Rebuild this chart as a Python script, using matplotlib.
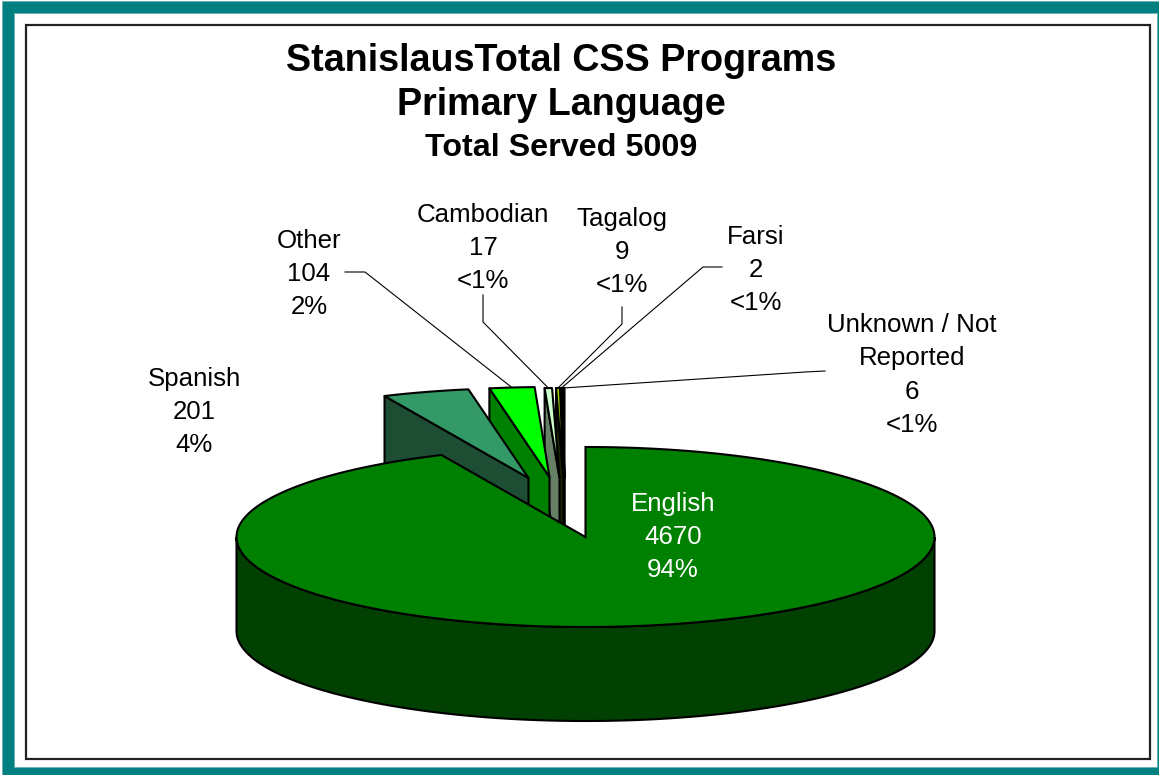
import numpy as np
import matplotlib.pyplot as plt
from matplotlib.patches import Polygon, Rectangle

plt.rcParams['font.family'] = ['Liberation Sans', 'DejaVu Sans']

languages = ["English", "Spanish", "Other", "Cambodian", "Tagalog", "Farsi", "Unknown / Not\nReported"]
served = [4670, 201, 104, 17, 9, 2, 6]
percents = ["94%", "4%", "2%", "<1%", "<1%", "<1%", "<1%"]

# look of each slice, same order as the data
top_colors = ["#008000", "#339966", "#00ff00", "#ccffcc", "#99cc00", "#003300", "#000000"]
side_colors = ["#004000", "#1d4d33", "#008000", "#668066", "#1a2200", "#000000", "#000000"]
explode_dx = [0, -57, -36, -26, -22, -21, -21]
explode_dy = [0, -59, -60, -59, -59, -59, -59]
label_x = [673, 194, 309, 483, 622, 756, 912]
label_y = [537, 412, 274, 248, 252, 270, 375]
# label side end of the leader lines, then the elbow
leader_from = [None, None, (345, 272), (483, 295), (622, 307), (722, 267), (825, 371)]
leader_elbow = [None, None, (365, 272), (483, 322), (622, 324), (703, 267), (805, 372)]

cx, cy = 585.5, 537
rx, ry = 349, 90
depth = 94
line_w = 1.5

fig = plt.figure(figsize=(11.59, 7.75), dpi=100)
ax = fig.add_axes([0, 0, 1, 1])
ax.set_xlim(0, 1159)
ax.set_ylim(775, 0)
ax.axis("off")

# teal border and inner frame
ax.add_patch(Rectangle((0, 0), 1159, 775, fc="#ffffff", ec="none"))
ax.add_patch(Rectangle((2, 1), 1157, 774, fc="#008080", ec="#66b2b2", lw=0.5))
ax.add_patch(Rectangle((14, 13), 1143, 754, fc="#ffffff", ec="#66b2b2", lw=0.5))
ax.add_patch(Rectangle((25.5, 24.5), 1124.5, 734.5, fc="#ffffff", ec="#222222", lw=1.6))


def arc(a1, a2, x0, y0):
    t = np.radians(np.linspace(a1, a2, max(int(abs(a2 - a1) * 2), 2)))
    return np.column_stack([x0 + rx * np.sin(t), y0 - ry * np.cos(t)])


edges = np.cumsum([0] + served) / sum(served) * 360
# english starts at twelve o'clock and runs clockwise, the rest fill up the gap
starts = edges[:-1]
ends = edges[1:]

# exploded slices, right one first so the left ones sit in front
for i in range(len(served) - 1, 0, -1):
    ax_, ay_ = cx + explode_dx[i], cy + explode_dy[i]
    outer = arc(starts[i], ends[i], ax_, ay_)
    wall = [outer[0], [ax_, ay_], [ax_, ay_ + depth], outer[0] + [0, depth]]
    ax.add_patch(Polygon(wall, fc=side_colors[i], ec="black", lw=line_w, joinstyle="round"))
    top = np.vstack([[ax_, ay_], outer])
    ax.add_patch(Polygon(top, fc=top_colors[i], ec="black", lw=line_w, joinstyle="round"))

# english slice with its front wall
front = arc(90, 270, cx, cy)
ax.add_patch(Polygon(np.vstack([front, (front + [0, depth])[::-1]]),
                     fc=side_colors[0], ec="black", lw=line_w))
top = np.vstack([[cx, cy], arc(starts[0], ends[0], cx, cy)])
ax.add_patch(Polygon(top, fc=top_colors[0], ec="black", lw=line_w))

# leader lines end at the middle of the outer edge of the slice
for i in range(len(served)):
    if leader_from[i] is None:
        continue
    mid = (starts[i] + ends[i]) / 2
    end = arc(mid, mid, cx + explode_dx[i], cy + explode_dy[i])[0]
    ax.plot([leader_from[i][0], leader_elbow[i][0], end[0]],
            [leader_from[i][1], leader_elbow[i][1], end[1]],
            color="black", lw=0.8, solid_joinstyle="miter")

for i in range(len(served)):
    txt = f"{languages[i]}\n{served[i]}\n{percents[i]}"
    ax.text(label_x[i], label_y[i], txt, ha="center", va="center", fontsize=18.6,
            color="white" if i == 0 else "black", linespacing=1.48)

ax.text(561.5, 61, "StanislausTotal CSS Programs", ha="center", va="center",
        fontsize=27.15, fontweight="bold")
ax.text(561.5, 105, "Primary Language", ha="center", va="center", fontsize=27.15, fontweight="bold")
ax.text(561, 148, "Total Served 5009", ha="center", va="center", fontsize=23.2, fontweight="bold")

fig.savefig("out.png", dpi=100)
